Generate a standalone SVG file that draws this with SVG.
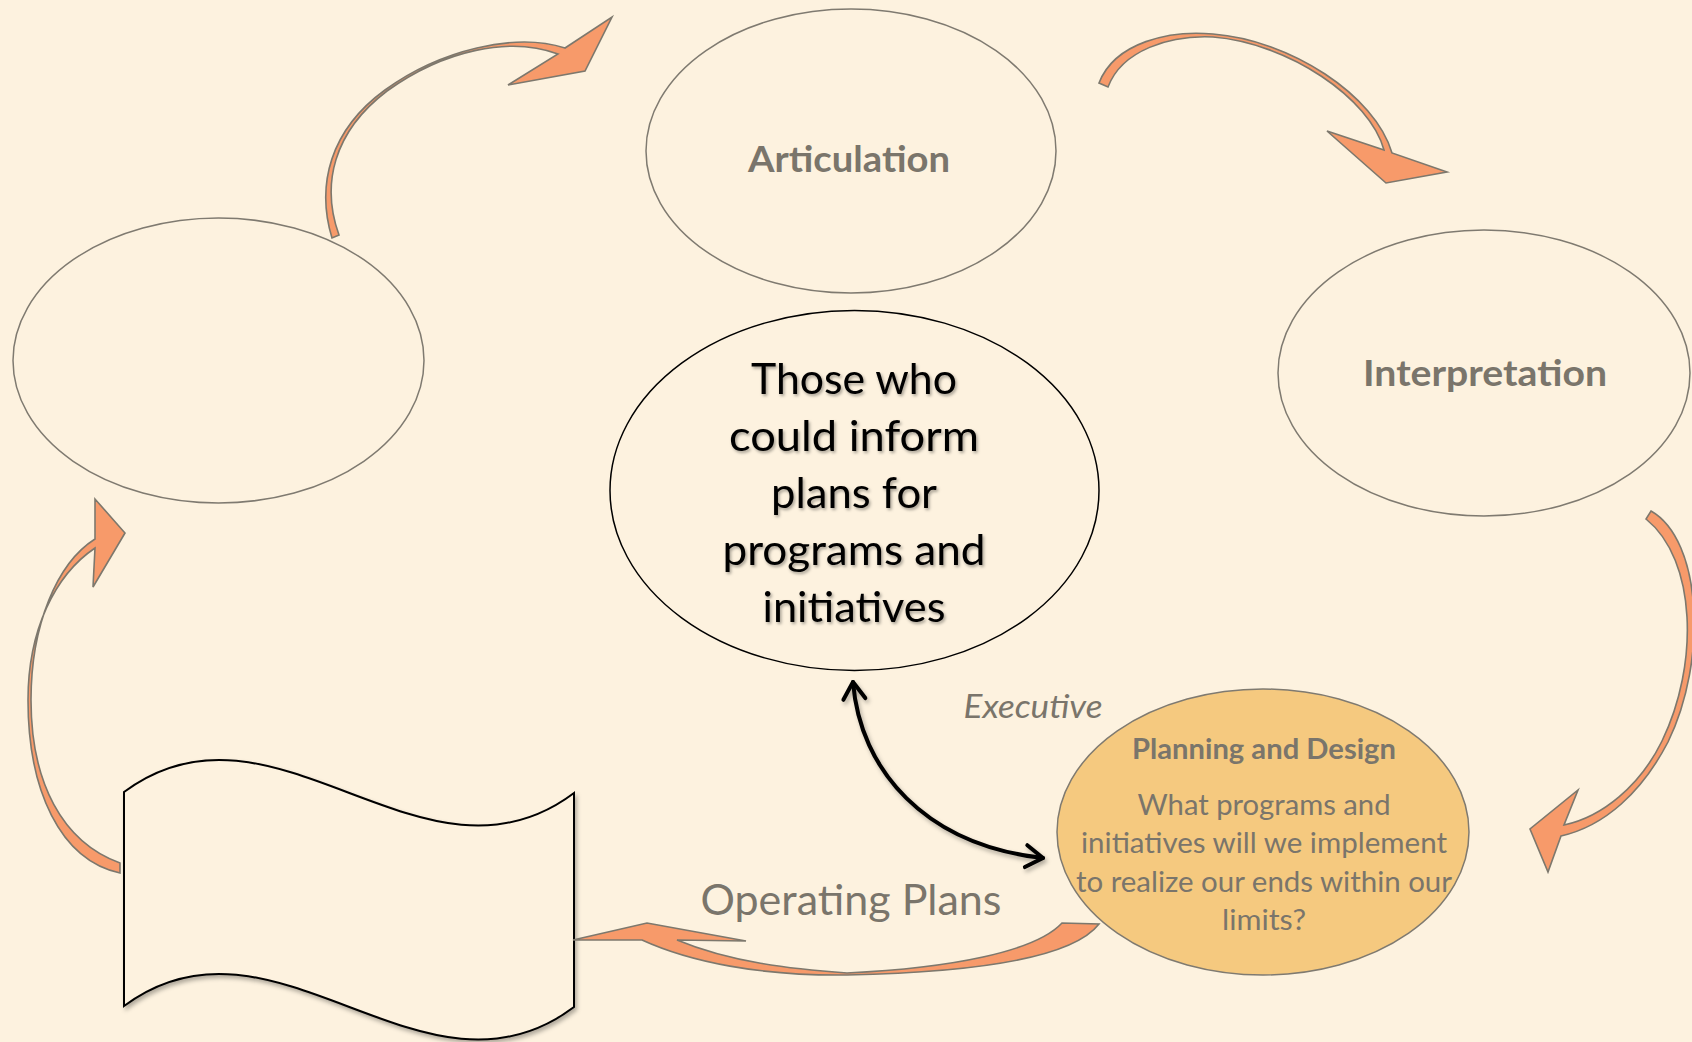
<svg xmlns="http://www.w3.org/2000/svg" width="1692" height="1042" viewBox="0 0 1692 1042">
<defs>
<style>
.ell{fill:none;stroke:#7f7a70;stroke-width:1.5}
.oarr{fill:#f79a6a;stroke:#7d786d;stroke-width:1.6;stroke-linejoin:miter}
.lbl{font-family:Lato,"Open Sans",sans-serif;fill:#7a756b;text-anchor:middle}
.ctr{font-family:Lato,"Open Sans",sans-serif;fill:#000;font-size:42px;text-anchor:middle}
</style>
<filter id="sh" x="-10%" y="-10%" width="130%" height="130%">
<feDropShadow dx="2" dy="3" stdDeviation="2" flood-color="#000" flood-opacity="0.3"/>
</filter>
<filter id="tsh" x="-10%" y="-20%" width="130%" height="150%">
<feDropShadow dx="1.5" dy="2" stdDeviation="1.5" flood-color="#000" flood-opacity="0.35"/>
</filter>
<marker id="chev" markerUnits="userSpaceOnUse" markerWidth="40" markerHeight="40" viewBox="-30 -20 40 40" refX="0" refY="0" orient="auto-start-reverse">
<path d="M-17,-11 L0,0 L-17,11" fill="none" stroke="#000" stroke-width="4" stroke-linecap="round" stroke-linejoin="round"/>
</marker>
</defs>
<rect width="1692" height="1042" fill="#fdf2df"/>

<g id="node-articulation">
<ellipse class="ell" cx="851" cy="151" rx="205" ry="142"/>
<text class="lbl" x="849" y="172" font-size="37" font-weight="bold" textLength="202" lengthAdjust="spacingAndGlyphs">Articulation</text>
</g>

<g id="node-left">
<ellipse class="ell" cx="218.5" cy="360.5" rx="205.5" ry="142.5"/>
</g>

<g id="node-interpretation">
<ellipse class="ell" cx="1484" cy="373" rx="206" ry="143"/>
<text class="lbl" x="1485" y="386" font-size="37" font-weight="bold" textLength="244" lengthAdjust="spacingAndGlyphs">Interpretation</text>
</g>

<g id="node-center">
<ellipse cx="854.5" cy="490.5" rx="244.5" ry="180" fill="none" stroke="#000" stroke-width="1.5"/>
<g filter="url(#tsh)">
<text class="ctr" x="854" y="394" textLength="206" lengthAdjust="spacingAndGlyphs">Those who</text>
<text class="ctr" x="854" y="451" textLength="250" lengthAdjust="spacingAndGlyphs">could inform</text>
<text class="ctr" x="854" y="508" textLength="166" lengthAdjust="spacingAndGlyphs">plans for</text>
<text class="ctr" x="854" y="565" textLength="263" lengthAdjust="spacingAndGlyphs">programs and</text>
<text class="ctr" x="854" y="622" textLength="183" lengthAdjust="spacingAndGlyphs">initiatives</text>
</g>
</g>

<g id="node-planning">
<ellipse cx="1263" cy="832" rx="206" ry="143" fill="#f5c97f" stroke="#7f7a70" stroke-width="1.5"/>
<text class="lbl" x="1264" y="759" font-size="28" font-weight="bold" textLength="264" lengthAdjust="spacingAndGlyphs">Planning and Design</text>
<text class="lbl" x="1264" y="815" font-size="28" textLength="253" lengthAdjust="spacingAndGlyphs">What programs and</text>
<text class="lbl" x="1264" y="853" font-size="28" textLength="366" lengthAdjust="spacingAndGlyphs">initiatives will we implement</text>
<text class="lbl" x="1264" y="892" font-size="28" textLength="376" lengthAdjust="spacingAndGlyphs">to realize our ends within our</text>
<text class="lbl" x="1264" y="930" font-size="28" textLength="84" lengthAdjust="spacingAndGlyphs">limits?</text>
</g>

<g id="node-banner">
<path d="M124,792 C274,680 424,906 574,793 L574,1007 C424,1120 274,894 124,1006 Z" fill="#fdf2df" stroke="#000" stroke-width="2" filter="url(#sh)"/>
</g>

<g id="connectors">
<path class="oarr" d="M332,238 C316,185 330,130 385,90 C440,50 515,32 565,48 L612,17 L585,71 L508,85 L558,54 C510,36 444,50 387,91 C333,132 321,185 339,235 Z"/>
<path class="oarr" d="M1099,83 C1115,42 1170,30 1213,34 C1290,40 1375,95 1392,153 L1447,172 L1386,183 L1327,131 L1384,150 C1370,98 1288,43 1213,37 C1170,35 1122,50 1108,87 Z"/>
<path class="oarr" d="M1651,511 C1702,540 1708,660 1668,742 C1642,792 1605,826 1561,836 L1548,872 L1530,829 L1578,790 L1564,825 C1602,817 1640,786 1662,741 C1699,665 1697,560 1646,519 Z"/>
<path class="oarr" d="M1099,924 C1075,955 990,972 847,975 C760,976 690,962 642,940 L573,940 L647,923 L746,941 L677,940 C730,962 790,969 847,973 C950,968 1035,952 1062,923 Z"/>
<path class="oarr" d="M120,873 C60,860 28,790 28,700 C28,630 55,575 95,548 L93,587 L125,533 L95,499 L95,539 C57,563 31,625 31,700 C31,782 62,842 120,863 Z"/>
<path d="M853,682 C860,770 925,845 1043,858" fill="none" stroke="#000" stroke-width="4" stroke-linecap="round" marker-start="url(#chev)" marker-end="url(#chev)" filter="url(#sh)"/>
<text class="lbl" x="1033" y="718" font-size="32" font-style="italic" textLength="139" lengthAdjust="spacingAndGlyphs">Executive</text>
<text class="lbl" x="851" y="915" font-size="42" textLength="301" lengthAdjust="spacingAndGlyphs">Operating Plans</text>
</g>
</svg>
